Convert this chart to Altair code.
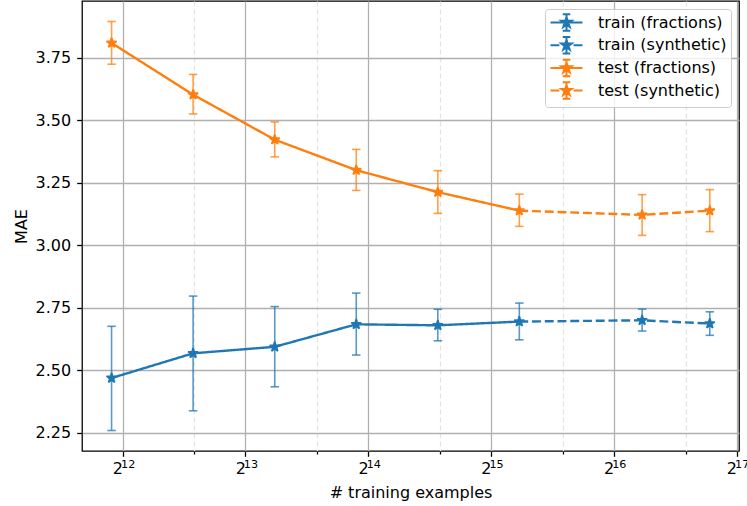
import math
import altair as alt
import pandas as pd

# ---- values -------------------------------------------------------------
# number of training examples at each point
n_examples = [3850, 6100, 9670, 15320, 24280, 38460, 76920, 112700]
# indices drawn as "fractions" (solid) and "synthetic" (dashed)
fraction_idx = [0, 1, 2, 3, 4, 5]
synthetic_idx = [5, 6, 7]

train_mae = [2.468, 2.567, 2.593, 2.683, 2.679, 2.694, 2.699, 2.686]
train_lo = [2.258, 2.337, 2.433, 2.560, 2.617, 2.621, 2.656, 2.639]
train_hi = [2.675, 2.796, 2.754, 2.808, 2.743, 2.768, 2.744, 2.733]

test_mae = [3.809, 3.602, 3.422, 3.300, 3.212, 3.138, 3.121, 3.138]
test_lo = [3.724, 3.525, 3.353, 3.219, 3.127, 3.075, 3.039, 3.054]
test_hi = [3.895, 3.683, 3.493, 3.383, 3.298, 3.204, 3.202, 3.222]

splits = ["train", "test"]
split_colors = ["#1f77b4", "#ff7f0e"]
sources = ["fractions", "synthetic"]
series_names = ["train (fractions)", "train (synthetic)",
                "test (fractions)", "test (synthetic)"]
series_colors = ["#1f77b4", "#1f77b4", "#ff7f0e", "#ff7f0e"]

x_tick_exponents = [12, 13, 14, 15, 16, 17]
y_ticks = [2.25, 2.50, 2.75, 3.00, 3.25, 3.50, 3.75]

# ---- tables -------------------------------------------------------------
stats = {"train": (train_mae, train_lo, train_hi),
         "test": (test_mae, test_lo, test_hi)}

point_rows = []
for split in splits:
    mae, lo, hi = stats[split]
    for i, n in enumerate(n_examples):
        point_rows.append({"split": split, "n": n, "mae": mae[i],
                           "lo": lo[i], "hi": hi[i]})
points = pd.DataFrame(point_rows)

line_rows = []
for split in splits:
    mae = stats[split][0]
    for source, idx in (("fractions", fraction_idx), ("synthetic", synthetic_idx)):
        for i in idx:
            line_rows.append({"split": split, "source": source,
                              "series": f"{split} ({source})",
                              "n": n_examples[i], "mae": mae[i]})
lines = pd.DataFrame(line_rows)


# ---- glyphs ---------------------------------------------------------------
def star_path(r_out, inner=0.381966):
    pts = []
    for k in range(10):
        ang = math.radians(-90 + 36 * k)
        r = r_out if k % 2 == 0 else r_out * inner
        pts.append(f"{r * math.cos(ang):.4f},{r * math.sin(ang):.4f}")
    return "M" + "L".join(pts) + "Z"


def legend_glyph(dashed):
    # line + error bar + star, in units of half the legend symbol size
    h, bar, cap = 1.94, 1.0, 0.46
    if dashed:
        line = f"M{-h},0L-0.86,0M0.86,0L{h},0"
    else:
        line = f"M{-h},0L{h},0"
    bars = (f"M0,{-bar}L0,{bar}"
            f"M{-cap},{-bar}L{cap},{-bar}M{-cap},{bar}L{cap},{bar}")
    return line + bars + star_path(0.66)


STAR = star_path(1.0)

# ---- scales & axes ----------------------------------------------------------
major_vals = [2 ** k for k in x_tick_exponents]
minor_vals = [1.5 * 2 ** k for k in x_tick_exponents[:-1]]
# base "2" ends a little left of its tick; a six-per-em space keeps the gap
base_expr = " : ".join(
    f"abs(datum.value - {2 ** k}) < 1 ? '2\u2006'" for k in x_tick_exponents) + " : ''"
exp_expr = " : ".join(
    f"abs(datum.value - {2 ** k}) < 1 ? '{k}'" for k in x_tick_exponents) + " : ''"
is_minor = ("abs(log(datum.value) / LN2 - round(log(datum.value) / LN2)) > 0.01")

FONT = "DejaVu Sans"

# main x axis: ticks, grid, the base "2" of each label, and the title
x_axis = alt.Axis(
    values=major_vals + minor_vals, labelExpr=base_expr,
    title="# training examples", domain=False,
    tickSize={"condition": {"test": is_minor, "value": 3}, "value": 5.3},
    gridDash={"condition": {"test": is_minor, "value": [5, 3]}, "value": []},
    gridColor={"condition": {"test": is_minor, "value": "#e4e4e4"},
               "value": "#b0b0b0"},
    labelAlign="right", labelPadding=4.4, titlePadding=8,
    labelFlush=False, labelOverlap=False, orient="bottom",
)
# second x axis carrying only the raised exponents (shifted 2px left/up)
x_exp_axis = alt.Axis(
    values=major_vals, labelExpr=exp_expr, title=None, domain=False,
    ticks=False, tickSize=0, grid=False, labelFontSize=11.2,
    labelAlign="left", labelPadding=9.3, translate=-1.5,
    labelFlush=False, labelOverlap=False, orient="bottom",
)
y_axis = alt.Axis(
    values=y_ticks, format=".2f", title="MAE", domain=False,
    tickSize=5.3, labelPadding=6, titlePadding=5.5,
)

x_scale = alt.Scale(type="log", base=2, domain=[3258, 132900], nice=False)
y_scale = alt.Scale(domain=[2.176, 3.977], nice=False, zero=False)
color = alt.Color("split:N", scale=alt.Scale(domain=splits, range=split_colors),
                  legend=None)


def X(axis=None):
    return alt.X("n:Q", scale=x_scale, axis=axis)


def Y(field):
    return alt.Y(f"{field}:Q", scale=y_scale, axis=y_axis)


# ---- layers ---------------------------------------------------------------
err_rule = alt.Chart(points).mark_rule(strokeWidth=1.6, opacity=0.75).encode(
    x=X(x_axis), y=Y("lo"), y2="hi", color=color)

cap_lo = alt.Chart(points).mark_tick(
    orient="horizontal", size=8.5, thickness=1.6, opacity=0.75
).encode(x=X(), y=Y("lo"), color=color)

cap_hi = alt.Chart(points).mark_tick(
    orient="horizontal", size=8.5, thickness=1.6, opacity=0.75
).encode(x=X(), y=Y("hi"), color=color)

curve = alt.Chart(lines).mark_line(strokeWidth=2.4).encode(
    x=X(), y=Y("mae"), color=color, detail="series:N",
    strokeDash=alt.StrokeDash(
        "source:N",
        scale=alt.Scale(domain=sources, range=[[1, 0], [8.9, 3.84]]),
        legend=None),
)

# star markers: a filled body plus an outline of the same colour
star_fill = alt.Chart(points).mark_point(
    filled=True, shape=STAR, size=110, opacity=1, strokeWidth=0
).encode(x=X(), y=Y("mae"), color=color)

star_edge = alt.Chart(points).mark_point(
    filled=False, shape=STAR, size=110, opacity=1, strokeWidth=1.6,
    strokeJoin="bevel"
).encode(x=X(), y=Y("mae"), color=color)

legend = alt.Legend(
    title=None, orient="none", legendX=463, legendY=8,
    symbolSize=272, symbolStrokeWidth=2, symbolOpacity=1,
    symbolOffset=8, labelOffset=22, rowPadding=-2.3, padding=4,
    labelFont=FONT, labelFontSize=16, labelColor="black", labelLimit=400,
    fillColor="rgba(255,255,255,0.8)", strokeColor="#cccccc", cornerRadius=3,
)
glyphs = [legend_glyph("synthetic" in s) for s in series_names]

key = alt.Chart(lines).mark_point(opacity=0).encode(
    x=X(x_exp_axis), y=Y("mae"),
    fill=alt.Fill("series:N", scale=alt.Scale(domain=series_names, range=series_colors),
                  legend=legend),
    stroke=alt.Stroke("series:N", scale=alt.Scale(domain=series_names, range=series_colors),
                      legend=legend),
    shape=alt.Shape("series:N", scale=alt.Scale(domain=series_names, range=glyphs),
                    legend=legend),
)

chart = alt.layer(err_rule, cap_lo, cap_hi, curve, star_fill, star_edge, key).resolve_axis(
    x="independent"
).properties(
    width=657, height=450,
    autosize=alt.AutoSizeParams(type="none"),
    padding={"left": 82, "top": 1, "right": 8, "bottom": 55},
    background="white",
).configure_view(
    stroke="black", strokeWidth=1.28,
).configure_axis(
    labelFont=FONT, labelFontSize=16, labelColor="black",
    titleFont=FONT, titleFontSize=16, titleFontWeight="normal", titleColor="black",
    tickColor="black", tickWidth=1.28, gridWidth=1.28, gridColor="#b0b0b0",
)

chart.save("out.html", embed_options={"renderer": "svg", "actions": False})
